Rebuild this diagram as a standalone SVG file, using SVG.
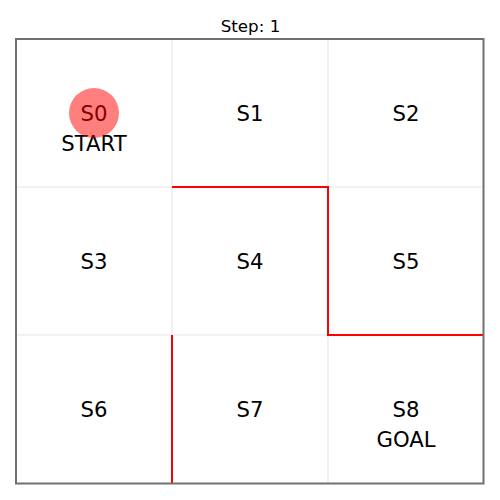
<svg xmlns="http://www.w3.org/2000/svg" width="500" height="500" viewBox="0 0 500 500">
<style>
.grid{stroke:#e6e6e6;stroke-width:1.2;fill:none}
.wall{stroke:#ff0000;stroke-width:2;fill:none;stroke-linecap:butt}
.lbl{font-family:"DejaVu Sans",sans-serif;font-size:21.2px;fill:#000;text-anchor:middle}
.title{font-family:"DejaVu Sans",sans-serif;font-size:16.7px;fill:#000;text-anchor:middle}
</style>
<rect width="500" height="500" fill="#fff"/>
<text class="title" x="250.5" y="32">Step: 1</text>
<g id="grid">
<line class="grid" x1="172" y1="39" x2="172" y2="484"/>
<line class="grid" x1="328" y1="39" x2="328" y2="484"/>
<line class="grid" x1="16" y1="187" x2="484" y2="187"/>
<line class="grid" x1="16" y1="335" x2="484" y2="335"/>
</g>
<g id="s0"><text class="lbl" x="94" y="120.6">S0</text><text class="lbl" x="94" y="150.5">START</text></g>
<g id="s1"><text class="lbl" x="250" y="120.6">S1</text></g>
<g id="s2"><text class="lbl" x="406" y="120.6">S2</text></g>
<g id="s3"><text class="lbl" x="94" y="268.6">S3</text></g>
<g id="s4"><text class="lbl" x="250" y="268.6">S4</text></g>
<g id="s5"><text class="lbl" x="406" y="268.6">S5</text></g>
<g id="s6"><text class="lbl" x="94" y="416.6">S6</text></g>
<g id="s7"><text class="lbl" x="250" y="416.6">S7</text></g>
<g id="s8"><text class="lbl" x="406" y="416.6">S8</text><text class="lbl" x="406" y="446.5">GOAL</text></g>
<g id="walls">
<polyline class="wall" points="172,187 328,187 328,335 484,335"/>
<line class="wall" x1="172" y1="335" x2="172" y2="484"/>
</g>
<g id="agent"><circle cx="94" cy="113" r="25" fill="#ff0000" fill-opacity="0.5"/></g>
<rect x="16" y="39" width="467.5" height="444.5" fill="none" stroke="#707070" stroke-width="2"/>
</svg>
